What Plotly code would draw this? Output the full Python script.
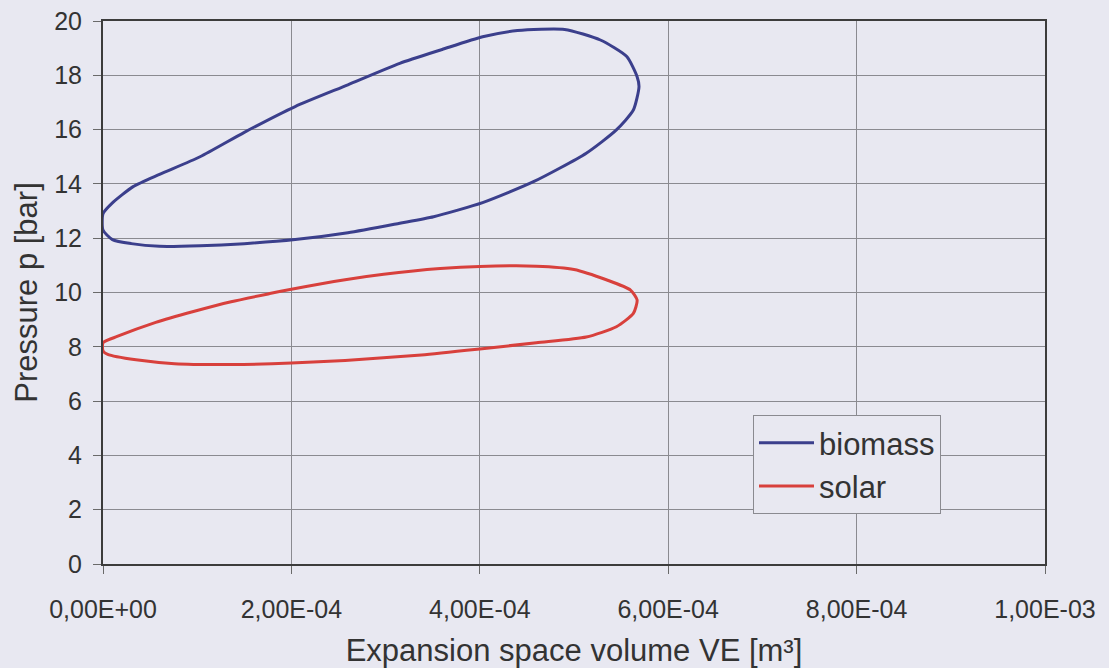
import plotly.graph_objects as go

# Expansion space volume in units of 1e-4 m3, pressure in bar
biomass_V = [0, 0.1, 0.32, 0.6, 1.03, 1.5, 2.04, 2.6, 3.15, 3.6, 4.03, 4.4, 4.9, 5.28, 5.56, 5.67, 5.69,
             5.63, 5.45, 5.13, 4.57, 4.03, 3.51, 3.15, 2.6, 2.04, 1.5, 1.03, 0.6, 0.3, 0.1, 0, 0]
biomass_p = [12.9, 13.3, 13.9, 14.35, 15.0, 15.9, 16.85, 17.65, 18.44, 18.95, 19.42, 19.65, 19.69, 19.3, 18.69, 17.95, 17.58,
             16.72, 15.99, 15.13, 14.08, 13.31, 12.79, 12.55, 12.2, 11.95, 11.8, 11.72, 11.7, 11.8, 11.95, 12.3, 12.9]

solar_V = [0, 0.15, 0.56, 0.96, 1.36, 1.77, 2.0, 2.57, 2.98, 3.58, 4.0, 4.6, 5.0, 5.35, 5.6, 5.67,
           5.63, 5.45, 5.13, 4.6, 4.0, 3.38, 2.57, 2.0, 1.36, 0.76, 0.35, 0.05, 0, 0]
solar_p = [8.15, 8.38, 8.9, 9.3, 9.66, 9.96, 10.12, 10.47, 10.67, 10.88, 10.96, 10.97, 10.85, 10.46, 10.09, 9.72,
           9.23, 8.74, 8.36, 8.15, 7.92, 7.7, 7.5, 7.4, 7.35, 7.38, 7.52, 7.72, 7.85, 8.15]

x_tick_vals = [0, 2e-4, 4e-4, 6e-4, 8e-4, 1e-3]
x_tick_text = ["0,00E+00", "2,00E-04", "4,00E-04", "6,00E-04", "8,00E-04", "1,00E-03"]
y_tick_vals = [0, 2, 4, 6, 8, 10, 12, 14, 16, 18, 20]

FONT = "Liberation Sans, Arial, sans-serif"
TXT = "#333333"
BG = "#e8e8f1"

fig = go.Figure()
fig.add_trace(go.Scatter(x=[v * 1e-4 for v in biomass_V], y=biomass_p, mode="lines", name="biomass",
                         line=dict(color="#3b3f8c", width=3, shape="spline", smoothing=0.6)))
fig.add_trace(go.Scatter(x=[v * 1e-4 for v in solar_V], y=solar_p, mode="lines", name="solar",
                         line=dict(color="#d8403c", width=3, shape="spline", smoothing=0.6)))

fig.update_layout(
    width=1109, height=668,
    margin=dict(l=103, r=64, t=21, b=104, autoexpand=False),
    paper_bgcolor=BG, plot_bgcolor=BG,
    font=dict(family=FONT, color=TXT, size=25),
    showlegend=True,
    legend=dict(x=(753 - 103) / 942, y=(564 - 415) / 543, xanchor="left", yanchor="top",
                bgcolor=BG, bordercolor="#8a8a90", borderwidth=1, itemwidth=55,
                font=dict(size=31, color=TXT, family=FONT), tracegroupgap=0),
)
fig.update_xaxes(range=[0, 1e-3], tickvals=x_tick_vals, ticktext=x_tick_text, automargin=False,
                 showgrid=True, gridcolor="#8a8a90", gridwidth=1,
                 showline=True, linecolor="#3c3c3c", linewidth=2, mirror=True,
                 ticks="outside", ticklen=8, tickcolor="#6a6a6a", ticklabelstandoff=14,
                 tickfont=dict(size=25, color=TXT),
                 title=dict(text="Expansion space volume VE [m³]", font=dict(size=31, color=TXT), standoff=17),
                 zeroline=False)
fig.update_yaxes(range=[0, 20], tickvals=y_tick_vals, automargin=False,
                 showgrid=True, gridcolor="#8a8a90", gridwidth=1,
                 showline=True, linecolor="#3c3c3c", linewidth=2, mirror=True,
                 ticks="outside", ticklen=8, tickcolor="#6a6a6a", ticklabelstandoff=6,
                 tickfont=dict(size=25, color=TXT),
                 title=dict(text="Pressure p [bar]", font=dict(size=31, color=TXT), standoff=7),
                 zeroline=False)

fig.write_html("out.html", config={"displayModeBar": False},
               post_script="document.body.style.margin='0';document.body.style.background='%s';" % BG)
